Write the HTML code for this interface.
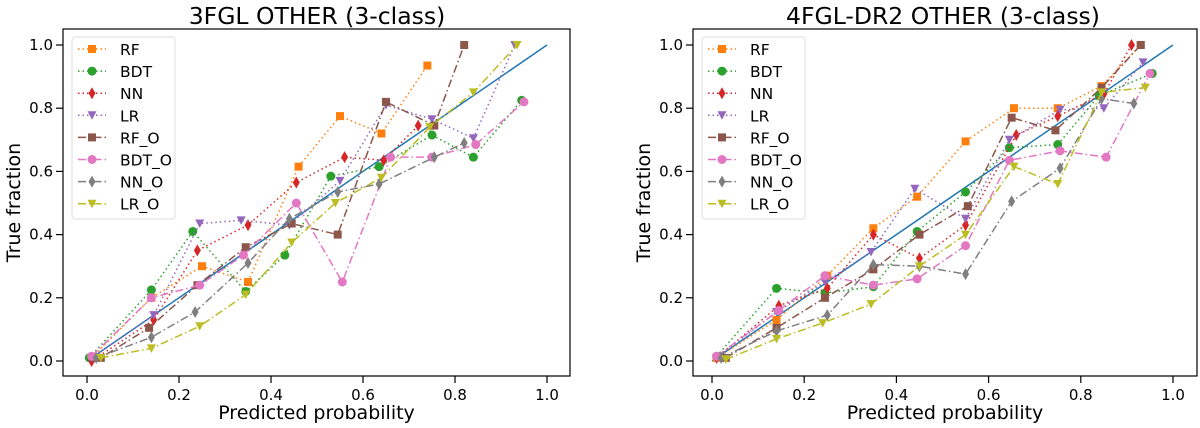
<!DOCTYPE html>
<html><head><meta charset="utf-8"><style>
body{margin:0;background:#fff;font-family:"DejaVu Sans","Liberation Sans",sans-serif}
svg{display:block}
</style></head><body>
<svg id="c" width="1200" height="428" xmlns="http://www.w3.org/2000/svg"></svg>
<script>
const names=["RF","BDT","NN","LR","RF_O","BDT_O","NN_O","LR_O"];
const colors=["#ff7f0e","#2ca02c","#d62728","#9467bd","#8c564b","#e377c2","#7f7f7f","#bcbd22"];
const markers=["s","o","d","v","s","o","d","v"];
const xTicks=[0,0.2,0.4,0.6,0.8,1.0];
const yTicks=[0,0.2,0.4,0.6,0.8,1.0];
const titles=["3FGL OTHER (3-class)","4FGL-DR2 OTHER (3-class)"];
const left3fglX=[
[0.01,0.14,0.25,0.35,0.46,0.55,0.64,0.74],
[0.005,0.14,0.23,0.345,0.43,0.53,0.635,0.75,0.84,0.945],
[0.01,0.145,0.24,0.35,0.455,0.56,0.645,0.72],
[0.01,0.145,0.245,0.335,0.44,0.55,0.65,0.75,0.84,0.93],
[0.01,0.03,0.135,0.24,0.345,0.445,0.545,0.65,0.755,0.82],
[0.01,0.14,0.245,0.34,0.455,0.555,0.66,0.75,0.845,0.95],
[0.02,0.14,0.235,0.35,0.44,0.545,0.635,0.755,0.82],
[0.03,0.14,0.245,0.345,0.445,0.54,0.64,0.745,0.84,0.935]];
const left3fglY=[
[0.01,0.2,0.3,0.25,0.615,0.775,0.72,0.935],
[0.01,0.225,0.41,0.22,0.335,0.585,0.615,0.715,0.645,0.825],
[0.0,0.13,0.35,0.43,0.565,0.645,0.635,0.745],
[0.01,0.145,0.435,0.445,0.43,0.57,0.81,0.765,0.705,1.0],
[0.01,0.01,0.105,0.24,0.36,0.435,0.4,0.82,0.745,1.0],
[0.015,0.2,0.24,0.335,0.5,0.25,0.645,0.645,0.685,0.82],
[0.01,0.075,0.155,0.31,0.45,0.535,0.56,0.645,0.69],
[0.01,0.04,0.11,0.21,0.375,0.5,0.58,0.74,0.85,1.0]];
const right4fglX=[
[0.01,0.14,0.25,0.35,0.445,0.55,0.655,0.75,0.845,0.93],
[0.01,0.14,0.245,0.35,0.445,0.55,0.645,0.75,0.84,0.955],
[0.01,0.145,0.25,0.35,0.45,0.55,0.66,0.75,0.85,0.91],
[0.01,0.14,0.245,0.345,0.44,0.55,0.645,0.755,0.85,0.935],
[0.03,0.14,0.245,0.35,0.45,0.555,0.65,0.745,0.845,0.93],
[0.01,0.145,0.245,0.35,0.445,0.55,0.645,0.755,0.855,0.95],
[0.02,0.14,0.25,0.35,0.45,0.55,0.65,0.755,0.845,0.915],
[0.03,0.14,0.24,0.345,0.45,0.55,0.655,0.75,0.845,0.94]];
const right4fglY=[
[0.01,0.13,0.27,0.42,0.52,0.695,0.8,0.8,0.87,1.0],
[0.015,0.23,0.215,0.235,0.41,0.535,0.675,0.685,0.84,0.91],
[0.01,0.175,0.23,0.4,0.325,0.43,0.715,0.775,0.845,1.0],
[0.01,0.155,0.25,0.345,0.545,0.45,0.7,0.795,0.8,0.945],
[0.01,0.105,0.2,0.29,0.4,0.49,0.77,0.73,0.865,1.0],
[0.015,0.16,0.27,0.24,0.26,0.365,0.635,0.665,0.645,0.91],
[0.01,0.095,0.145,0.305,0.3,0.275,0.505,0.61,0.83,0.815],
[0.005,0.07,0.12,0.18,0.3,0.4,0.615,0.56,0.85,0.865]];
const panels=[
 {x0:87,x1:547,fl:63,fr:570,X:left3fglX,Y:left3fglY,tx:317},
 {x0:712,x1:1173,fl:693,fr:1197,X:right4fglX,Y:right4fglY,tx:943}];
const yTop=45,yBot=361,fT=29,fB=376;
const svg=document.getElementById('c');
const NS="http://www.w3.org/2000/svg";
function mk(tag,attrs,parent){const e=document.createElementNS(NS,tag);for(const k in attrs)e.setAttribute(k,attrs[k]);(parent||svg).appendChild(e);return e;}
function marker(g,m,cx,cy,col){
 let e;
 if(m==="s")e=mk('rect',{x:cx-4,y:cy-4,width:8,height:8,fill:col},g);
 else if(m==="o")e=mk('circle',{cx:cx,cy:cy,r:4.5,fill:col},g);
 else if(m==="d")e=mk('polygon',{points:`${cx},${cy-6} ${cx+3.5},${cy} ${cx},${cy+6} ${cx-3.5},${cy}`,fill:col},g);
 else e=mk('polygon',{points:`${cx-4.5},${cy-4} ${cx+4.5},${cy-4} ${cx},${cy+4.5}`,fill:col},g);
 return e;
}
function dash(i){return i<4?"1.5,3":"8,3,1.5,3";}
panels.forEach((p,pi)=>{
 const sx=v=>p.x0+v*(p.x1-p.x0), sy=v=>yBot-v*(yBot-yTop);
 const g=mk('g',{});
 
 
 const t=mk('text',{x:p.tx,y:24,'text-anchor':'middle','font-size':23.5,fill:'#000'},g);t.textContent=titles[pi];
 
 xTicks.forEach(v=>{mk('line',{x1:sx(v),x2:sx(v),y1:fB,y2:fB+7,stroke:'#000','stroke-width':1.2},g);
  const l=mk('text',{x:sx(v),y:fB+24,'text-anchor':'middle','font-size':15},g);l.textContent=v.toFixed(1);
  });
 yTicks.forEach(v=>{mk('line',{x1:p.fl-7,x2:p.fl,y1:sy(v),y2:sy(v),stroke:'#000','stroke-width':1.2},g);
  const l=mk('text',{x:p.fl-10,y:sy(v)+5,'text-anchor':'end','font-size':15},g);l.textContent=v.toFixed(1);
  });
 const xl=mk('text',{x:(p.fl+p.fr)/2,y:419,'text-anchor':'middle','font-size':19},g);xl.textContent="Predicted probability";
 
 const yx=p.fl-43;
 const yl=mk('text',{x:yx,y:(fT+fB)/2,'text-anchor':'middle','font-size':19,transform:`rotate(-90 ${yx} ${(fT+fB)/2})`},g);yl.textContent="True fraction";
 
 const diag=mk('line',{x1:sx(0),y1:sy(0),x2:sx(1),y2:sy(1),stroke:'#1f77b4','stroke-width':1.5},g);
 
 names.forEach((n,i)=>{
  const sg=mk('g',{},g);
  
  
  const pts=p.X[i].map((x,j)=>sx(x)+','+sy(p.Y[i][j])).join(' ');
  mk('polyline',{points:pts,fill:'none',stroke:colors[i],'stroke-width':1.5,'stroke-dasharray':dash(i)},sg);
  p.X[i].forEach((x,j)=>marker(sg,markers[i],sx(x),sy(p.Y[i][j]),colors[i]));
 });
 mk('rect',{x:p.fl,y:fT,width:p.fr-p.fl,height:fB-fT,fill:'none',stroke:'#000','stroke-width':1.2},g);
 const lg=mk('g',{},g);
 
 const lx=p.fl+9;
 mk('rect',{x:lx,y:37,width:103,height:182,rx:3,fill:'#fff','fill-opacity':0.85,stroke:'#ddd'},lg);
 names.forEach((n,i)=>{
  const y=49+i*22.1;
  const e=mk('g',{},lg);
  
  mk('line',{x1:lx+6,x2:lx+34,y1:y,y2:y,stroke:colors[i],'stroke-width':1.5,'stroke-dasharray':dash(i)},e);
  marker(e,markers[i],lx+20,y,colors[i]);
  const tt=mk('text',{x:lx+48,y:y+6,'font-size':15.5},e);tt.textContent=n;
 });
});
</script>
</body></html>
